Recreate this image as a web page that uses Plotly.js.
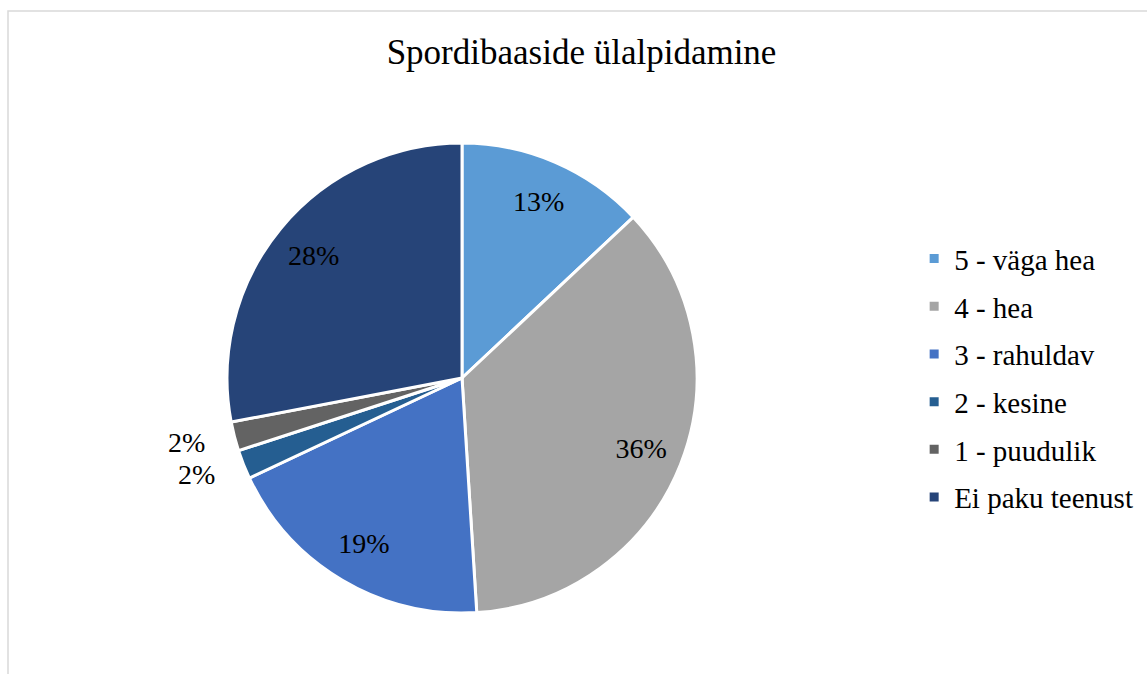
<!DOCTYPE html>
<html>
<head>
<meta charset="utf-8">
<script src="https://cdn.plot.ly/plotly-3.0.1.min.js"></script>
<style>html,body{margin:0;padding:0;background:#fff;} #chart{width:1147px;height:674px;}</style>
</head>
<body>
<div id="chart"></div>
<script>
const categories = ["5 - väga hea", "4 - hea", "3 - rahuldav", "2 - kesine", "1 - puudulik", "Ei paku teenust"];
const values = [13, 36, 19, 2, 2, 28];
const colors = ["#5B9BD5", "#A5A5A5", "#4472C4", "#255E91", "#636363", "#264478"];
const insideLabel = [true, true, true, false, false, true];

const FONT = "Liberation Serif, Times New Roman, serif";
const dom = {x: [0.1979, 0.6077], y: [0.0905, 0.7878]};
const outerDom = {x: [0.1787, 0.6269], y: [0.0579, 0.8205]};

const mainPie = {
  type: "pie", labels: categories, values: values, sort: false, direction: "clockwise", rotation: 0,
  domain: dom, marker: {colors: colors, line: {color: "#ffffff", width: 3}},
  textinfo: "none",
  showlegend: false, hoverinfo: "label+percent"
};
const outerPie = {
  type: "pie", labels: categories, values: values, sort: false, direction: "clockwise", rotation: 0,
  domain: outerDom, hole: 0.9,
  marker: {colors: categories.map(() => "rgba(0,0,0,0)"), line: {width: 0}},
  texttemplate: "%{percent:.0%}",
  textposition: insideLabel.map(v => v ? "none" : "outside"),
  outsidetextfont: {family: FONT, size: 28, color: "#000"},
  showlegend: false, hoverinfo: "skip"
};
const ringPie = {
  type: "pie", labels: categories, values: values, sort: false, direction: "clockwise", rotation: 0,
  domain: dom, hole: 0.64,
  marker: {colors: categories.map(() => "rgba(0,0,0,0)"), line: {width: 0}},
  texttemplate: "%{percent:.0%}",
  textposition: insideLabel.map(v => v ? "inside" : "none"),
  insidetextorientation: "horizontal",
  insidetextfont: {family: FONT, size: 28, color: "#000"},
  showlegend: false, hoverinfo: "skip"
};
const legendTraces = categories.map((c, i) => ({
  type: "scatter", x: [null], y: [null], mode: "markers", name: c, legendgroup: "g" + i,
  marker: {symbol: "square", size: 9, color: colors[i]}, hoverinfo: "skip"
}));

const layout = {
  width: 1147, height: 674, margin: {l: 0, r: 0, t: 0, b: 0},
  paper_bgcolor: "#fff", plot_bgcolor: "rgba(0,0,0,0)",
  title: {text: "Spordibaaside ülalpidamine", font: {family: FONT, size: 35, color: "#000"},
          x: 0.507, xanchor: "center", y: 0.923, yanchor: "middle", yref: "container"},
  xaxis: {visible: false}, yaxis: {visible: false},
  showlegend: true,
  legend: {x: 0.797, xanchor: "left", y: 0.654, yanchor: "top", tracegroupgap: 7,
           font: {family: FONT, size: 29, color: "#000"}, bgcolor: "rgba(0,0,0,0)"},
  shapes: [{type: "rect", xref: "paper", yref: "paper", x0: 8/1147, x1: 1.02, y0: -0.02, y1: 1 - 11/674,
            line: {color: "#D9D9D9", width: 1.5}, fillcolor: "rgba(0,0,0,0)", layer: "below"}]
};

Plotly.newPlot("chart", [mainPie, outerPie, ringPie].concat(legendTraces), layout, {displayModeBar: false, staticPlot: true});
</script>
</body>
</html>
